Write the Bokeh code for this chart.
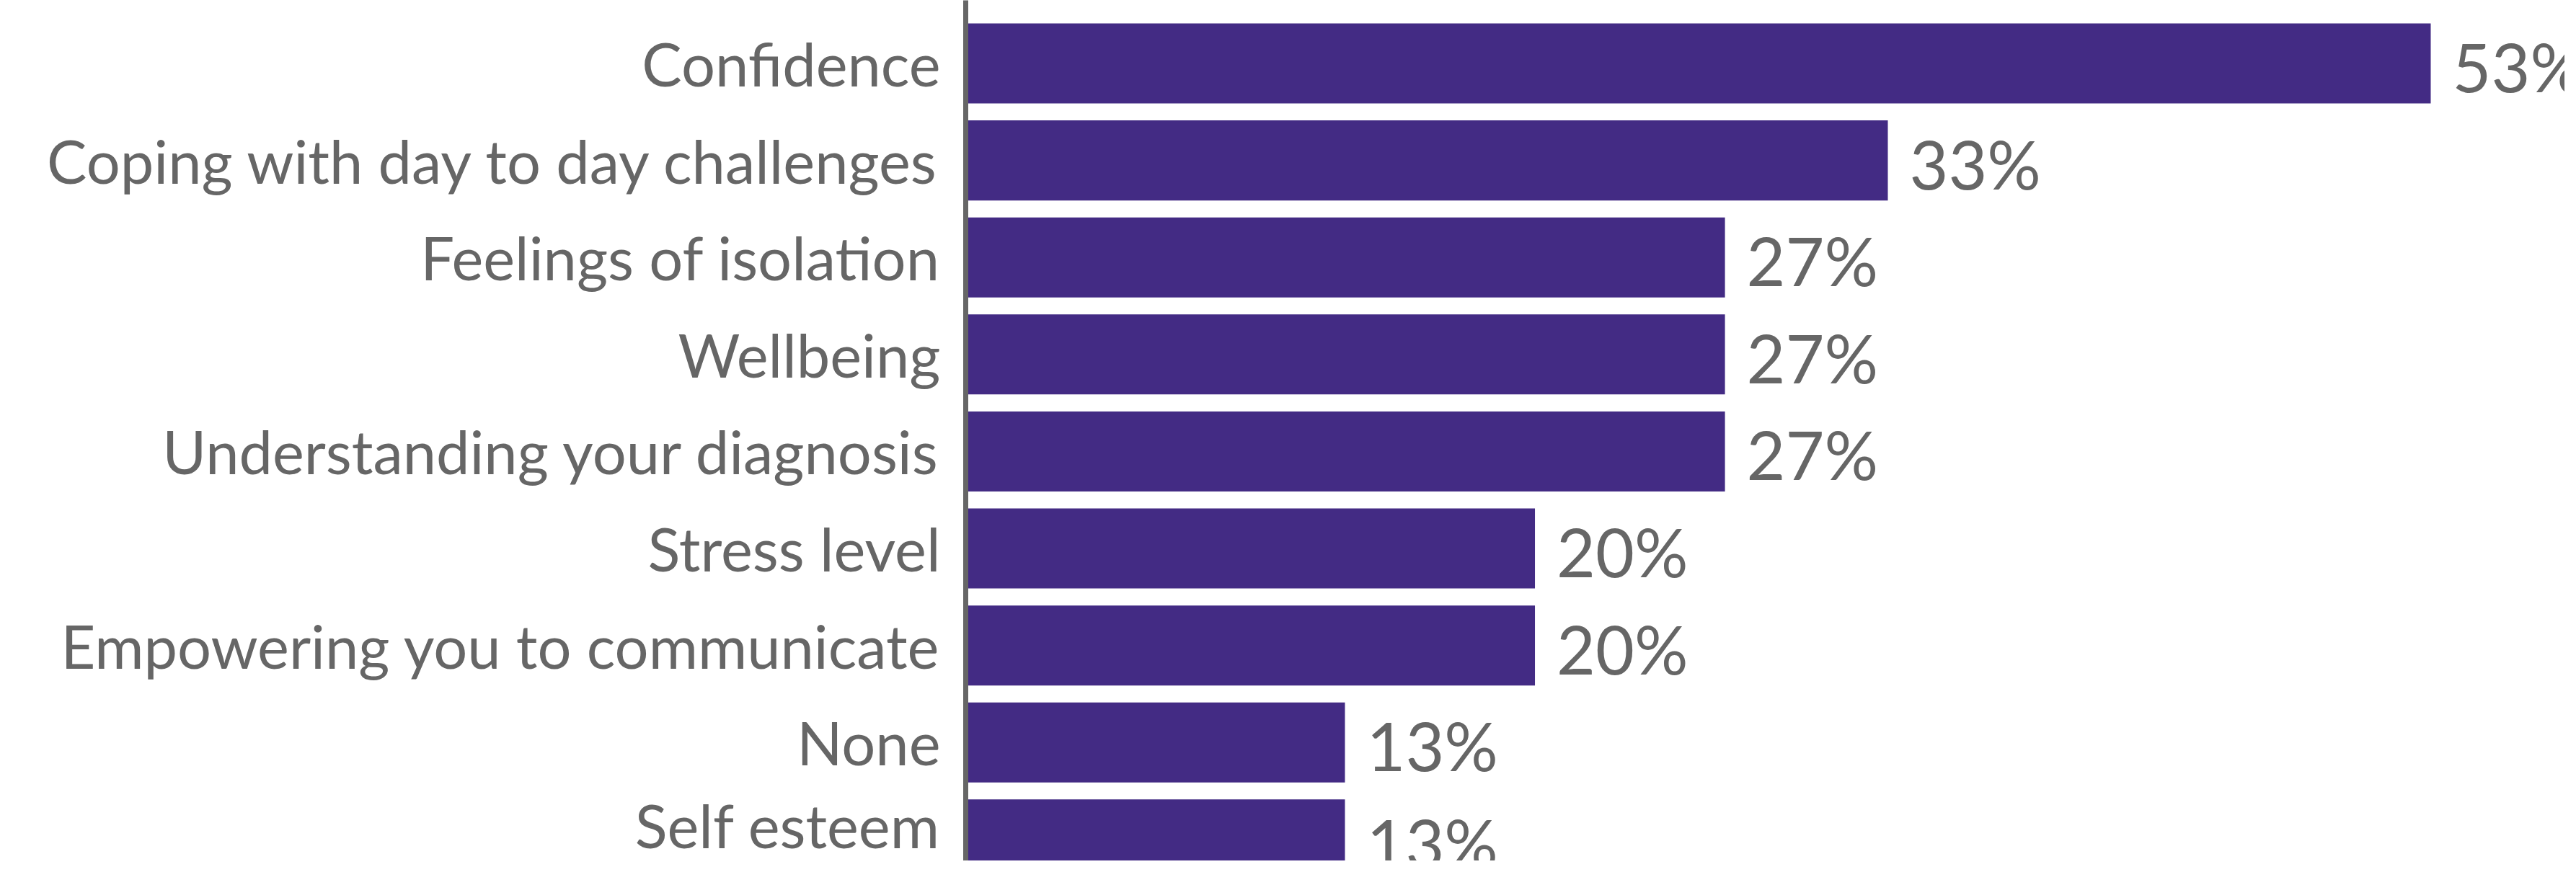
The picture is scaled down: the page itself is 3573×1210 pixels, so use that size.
from bokeh.plotting import figure
from bokeh.models import Range1d, FixedTicker, ColumnDataSource
from bokeh.embed import file_html
from bokeh.resources import INLINE
from bokeh.core.properties import value

categories = ["Confidence", "Coping with day to day challenges", "Feelings of isolation",
              "Wellbeing", "Understanding your diagnosis", "Stress level",
              "Empowering you to communicate", "None", "Self esteem"]
values = [53, 33, 27, 27, 27, 20, 20, 13, 13]
value_labels = [f"{v}%" for v in values]

BAR = "#432B84"
GREY = "#666666"
FONT = "Lato"

positions = list(range(len(categories)))
X_START = -0.97  # axis sits slightly left of zero; bars grow from the axis
src = ColumnDataSource(dict(y=positions, v=values, lab=value_labels,
                            base=[X_START] * len(values)))

W, H = 3557, 1194
p = figure(width=W, height=H, output_backend="svg", toolbar_location=None,
           x_range=Range1d(X_START, 57.94), y_range=Range1d(8.22, -0.65),
           x_axis_location=None, min_border_left=1339, min_border_right=0,
           min_border_top=0, min_border_bottom=0)
p.outline_line_color = None
p.xgrid.visible = False
p.ygrid.visible = False
p.background_fill_color = "white"
p.border_fill_color = "white"

p.hbar(y="y", right="v", left="base", height=0.825, source=src, color=BAR, line_color=None)
p.text(x="v", y="y", text="lab", source=src, x_offset=30, y_offset=4,
       text_baseline="middle", text_align="left", text_color=GREY,
       text_font=value(FONT), text_font_size="93px")

ax = p.yaxis[0]
ax.ticker = FixedTicker(ticks=positions)
ax.major_label_overrides = {i: c for i, c in zip(positions, categories)}
ax.major_tick_line_color = None
ax.minor_tick_line_color = None
ax.major_tick_out = 0
ax.major_tick_in = 0
ax.axis_line_color = GREY
ax.axis_line_width = 7
ax.major_label_standoff = 35
ax.major_label_text_font = FONT
ax.major_label_text_font_size = "83px"
ax.major_label_text_color = GREY

open("out.html", "w").write(file_html(p, INLINE))
